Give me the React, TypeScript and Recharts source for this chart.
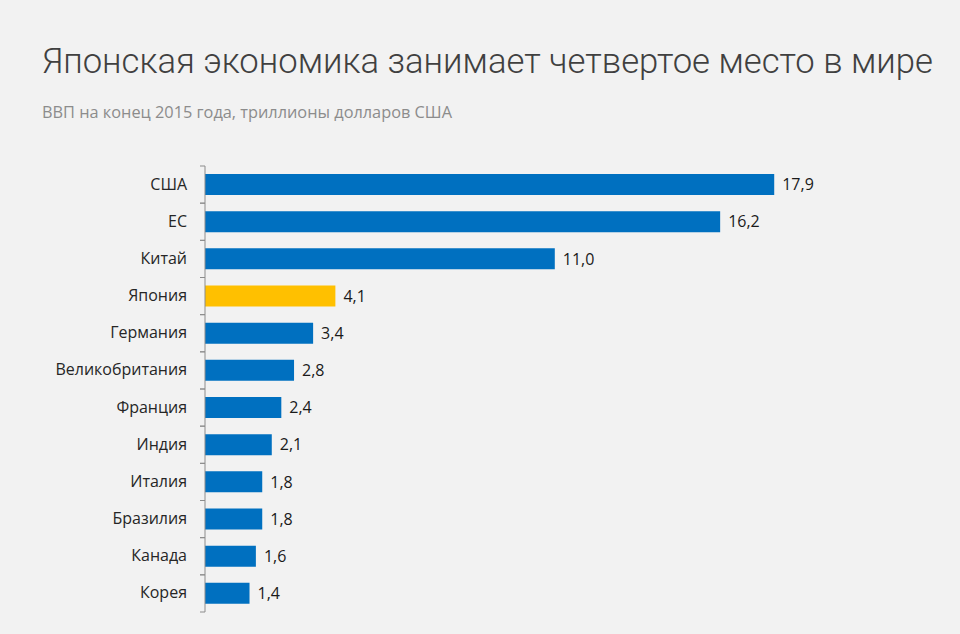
import React from 'react';
import { BarChart, Bar, XAxis, YAxis, Cell, LabelList } from 'recharts';

const countries = [
  'США', 'ЕС', 'Китай', 'Япония', 'Германия', 'Великобритания',
  'Франция', 'Индия', 'Италия', 'Бразилия', 'Канада', 'Корея',
];
const gdp = [17.9, 16.2, 11.0, 4.1, 3.4, 2.8, 2.4, 2.1, 1.8, 1.8, 1.6, 1.4];
const highlight = 'Япония';

const BLUE = '#0070C0';
const GOLD = '#FFC000';
const AXIS = '#8c8c8c';
const FONT = '"Open Sans", "Noto Sans", sans-serif';

const W = 960;
const H = 634;
const TOP = 166;
const BOTTOM = 22;
const AXIS_X = 205;
const BAND = (H - TOP - BOTTOM) / countries.length;

const data = countries.map((name, i) => ({ name, value: gdp[i] }));

const CountryTick = (props: any) => {
  const { y, payload } = props;
  return (
    <g>
      <line x1={AXIS_X - 5} x2={AXIS_X} y1={y - BAND / 2} y2={y - BAND / 2} stroke={AXIS} />
      <line x1={AXIS_X - 5} x2={AXIS_X} y1={y + BAND / 2} y2={y + BAND / 2} stroke={AXIS} />
      <text x={AXIS_X - 18} y={y} dy={5} textAnchor="end" fill="#262626" fontSize={16} fontFamily={FONT}>
        {payload.value}
      </text>
    </g>
  );
};

export default function App() {
  return (
    <div style={{ position: 'fixed', left: 0, top: 0, width: W, height: H, background: '#f2f2f2', fontFamily: FONT }}>
      <svg width={W} height={140} style={{ position: 'absolute', left: 0, top: 0 }}>
        <text
          x={42}
          y={73}
          fontFamily='Roboto, "Open Sans", sans-serif'
          fontWeight={300}
          fontSize={34.5}
          fill="#404040"
          textLength={891}
          lengthAdjust="spacingAndGlyphs"
        >
          Японская экономика занимает четвертое место в мире
        </text>
        <text
          x={42}
          y={118}
          fontFamily={FONT}
          fontSize={16}
          fill="#8c8c8c"
          textLength={410}
          lengthAdjust="spacingAndGlyphs"
        >
          ВВП на конец 2015 года, триллионы долларов США
        </text>
      </svg>
      <div style={{ position: 'absolute', left: 0, top: 0 }}>
        <BarChart
          width={W}
          height={H}
          data={data}
          layout="vertical"
          margin={{ top: TOP, right: W - AXIS_X - 636, bottom: BOTTOM, left: 0 }}
          barSize={21}
        >
          <XAxis type="number" domain={[0, 20]} hide />
          <YAxis
            type="category"
            dataKey="name"
            width={AXIS_X}
            axisLine={{ stroke: AXIS }}
            tickLine={false}
            tick={<CountryTick />}
            interval={0}
          />
          <Bar dataKey="value" isAnimationActive={false}>
            {data.map((d) => (
              <Cell key={d.name} fill={d.name === highlight ? GOLD : BLUE} />
            ))}
            <LabelList
              dataKey="value"
              position="right"
              offset={8}
              fill="#1a1a1a"
              fontSize={16}
              fontFamily={FONT}
              formatter={(v: any) => Number(v).toFixed(1).replace('.', ',')}
            />
          </Bar>
        </BarChart>
      </div>
    </div>
  );
}
